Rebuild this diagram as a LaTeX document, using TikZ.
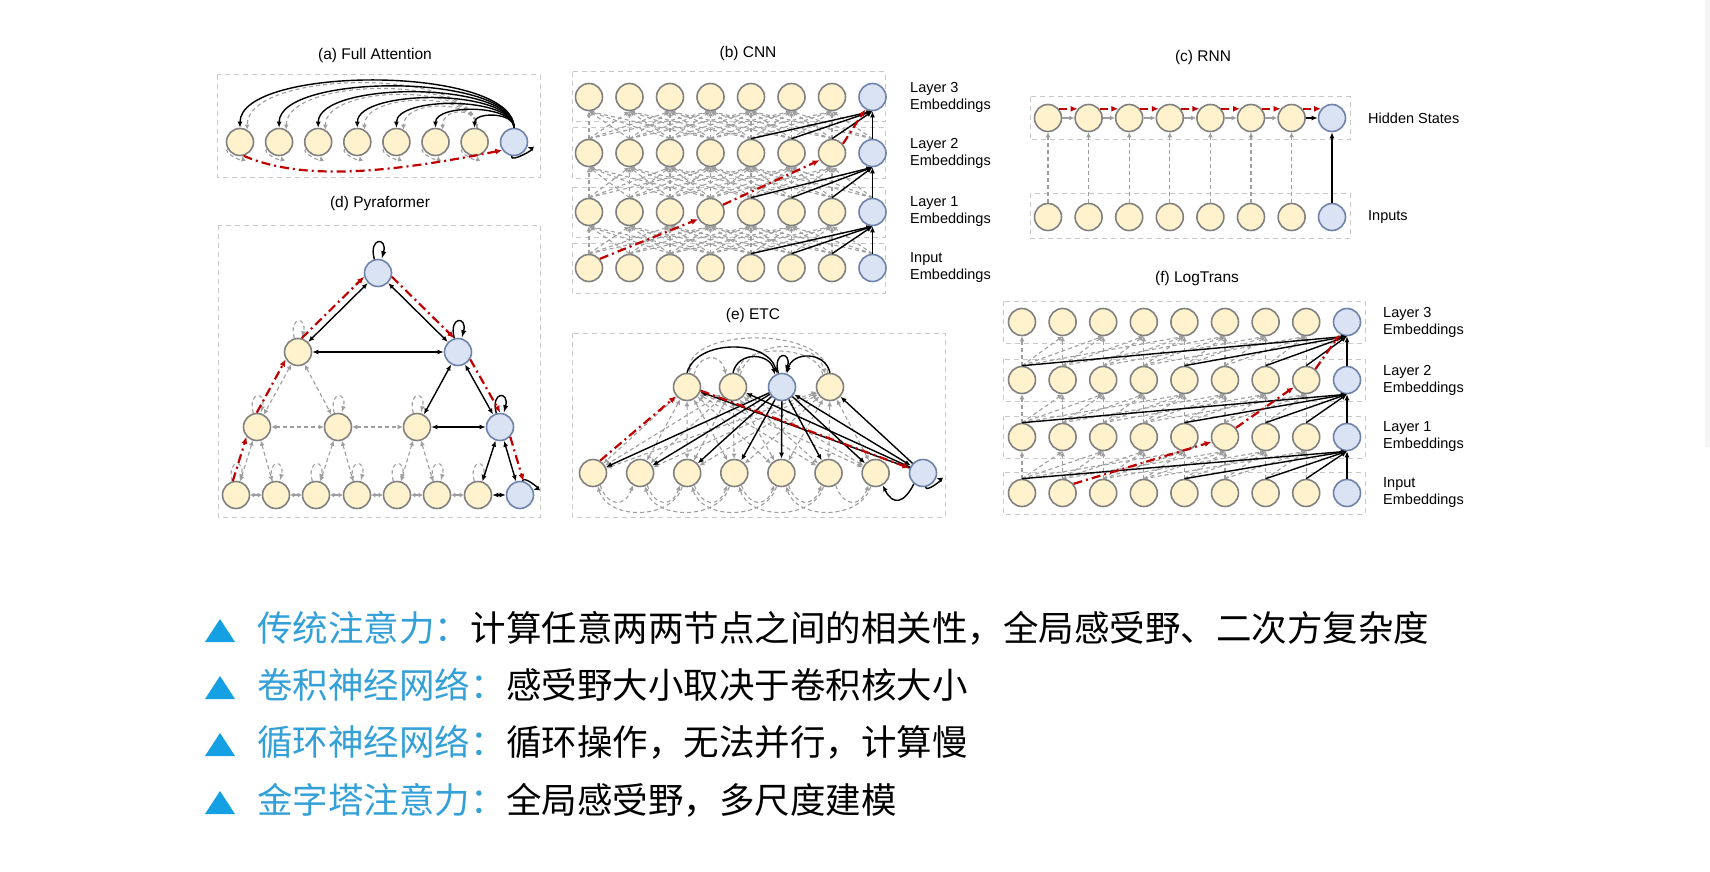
\documentclass[tikz,border=0pt]{standalone}
\usepackage{fontspec}
\setmainfont{Liberation Sans}
\newfontfamily\cjk{Noto Sans CJK SC}
\usepackage{xcolor}
\usepackage{tikz}
\usetikzlibrary{arrows.meta}
\usetikzlibrary{shapes,arrows,positioning}
\tikzset{>=latex}

\definecolor{tokfill}{RGB}{255,242,204}
\definecolor{globfill}{RGB}{218,227,243}
\definecolor{tokline}{RGB}{128,128,128}
\definecolor{globline}{RGB}{110,130,170}
\definecolor{attred}{RGB}{192,0,0}
\definecolor{dashgray}{RGB}{158,158,158}
\definecolor{boxgray}{RGB}{200,200,200}
\definecolor{keyblue}{RGB}{52,160,216}
\definecolor{tripblue}{RGB}{20,160,226}
\definecolor{stripgray}{RGB}{245,245,245}

\tikzset{
    tok/.style={circle, draw=tokline, fill=tokfill, line width=1.6pt, minimum size=27pt, inner sep=0pt},
    glob/.style={tok, draw=globline, fill=globfill},
    attn/.style={-{Latex[length=6pt,width=5pt]}, line width=1.4pt, black},
    attnd/.style={-{Latex[length=5pt,width=5pt]}, line width=1.1pt, dashgray, dash pattern=on 4pt off 3pt},
    dbl/.style={{Latex[length=6pt,width=5pt]}-{Latex[length=6pt,width=5pt]}, line width=1.4pt, black},
    dbld/.style={{Latex[length=5pt,width=5pt]}-{Latex[length=5pt,width=5pt]}, line width=1.1pt, dashgray, dash pattern=on 4pt off 3pt},
    gry/.style={-{Latex[length=5pt,width=5pt]}, line width=1.2pt, dashgray},
    gryd/.style={{Latex[length=4pt,width=5pt]}-{Latex[length=4pt,width=5pt]}, line width=1.2pt, dashgray},
    redpath/.style={-{Latex[length=7pt,width=6pt]}, line width=2.2pt, attred, dash pattern=on 9pt off 4pt on 2pt off 4pt},
    grp/.style={draw=boxgray, line width=1pt, dash pattern=on 5pt off 4pt},
    ttl/.style={font=\fontsize{15.5}{18}\selectfont},
    lbl/.style={anchor=west, align=left, inner sep=0pt, font=\fontsize{14.5}{17}\selectfont},
    keytxt/.style={anchor=base west, inner sep=0pt, text=keyblue, font=\cjk\fontsize{35.5}{40}\selectfont},
    bodytxt/.style={keytxt, text=black},
}

\begin{document}
\begin{tikzpicture}[x=1pt,y=1pt]
        \fill[white] (0,0) rectangle (1710,-872);
        \useasboundingbox (0,0) rectangle (1710,-872);
        \fill[stripgray] (1705,0) rectangle (1710,-447);

        % (a) full attention
        \node[ttl] (ta) at (375,-55) {(a) Full Attention};
        \draw[grp] (217,-75) rectangle (540,-177);
        \foreach \i in {0,...,6}
            \node[tok] (a\i) at (240+39.1*\i,-142) {};
        \node[glob] (a7) at (514,-142) {};
        \foreach \j in {0,...,5} {
            \pgfmathsetmacro\hh{10+0.2*(6.5-\j)*39.1}
            \draw[attnd] (a6.80) .. controls +(0,\hh) and +(0,\hh) .. (a\j.60);
        }
        \foreach \i in {0,...,6}
            \path (a\i) edge[loop, out=-150, in=-80, attnd] (a\i);
        \foreach \j in {0,...,6} {
            \pgfmathsetmacro\hh{8+0.2*(7-\j)*39.1}
            \draw[attn] (a7.north) .. controls +(0,\hh) and +(0,\hh) .. (a\j.north);
        }
        \path (a7) edge[loop, out=-100, in=-20, attn] (a7);
        \draw[redpath] (a0.-75) .. controls +(60,-26) and +(-110,-22) .. (a7.-145);

        % (b) cnn
        \node[ttl] (tb) at (748,-53) {(b) CNN};
        \foreach \r/\yy in {0/268,1/212,2/153,3/97} {
            \draw[grp] (572,-\yy+25) rectangle (885,-\yy-25);
            \foreach \c in {0,...,6}
                \node[tok] (b\r\c) at (589+40.5*\c,-\yy) {};
            \node[glob] (b\r7) at (872.5,-\yy) {};
        }
        \foreach \r in {0,1,2} {
            \pgfmathtruncatemacro\rr{\r+1}
            \foreach \c in {0,...,6}
                \foreach \d in {-3,...,3} {
                    \pgfmathtruncatemacro\j{\c+\d}
                    \ifnum\j>-1 \ifnum\j<8
                        \draw[attnd] (b\r\j.north) -- (b\rr\c.south);
                    \fi\fi
                }
            \foreach \j in {4,5,6,7}
                \draw[attn] (b\r\j.north) -- (b\rr7.south);
        }
        \draw[redpath] (b00.40) -- (b13.-150);
        \draw[redpath] (b13.30) -- (b26.-150);
        \draw[redpath] (b26.40) -- (b37.-120);
        \node[lbl] (lb3) at (910,-97) {Layer 3\\Embeddings};
        \node[lbl] (lb2) at (910,-153) {Layer 2\\Embeddings};
        \node[lbl] (lb1) at (910,-212) {Layer 1\\Embeddings};
        \node[lbl] (lb0) at (910,-268) {Input\\Embeddings};

        % (c) rnn
        \node[ttl] (tc) at (1203,-57) {(c) RNN};
        \draw[grp] (1030,-97) rectangle (1350,-140);
        \draw[grp] (1030,-193) rectangle (1350,-238);
        \foreach \c in {0,...,6} {
            \node[tok] (h\c) at (1048+40.6*\c,-118) {};
            \node[tok] (x\c) at (1048+40.6*\c,-217) {};
        }
        \node[glob] (h7) at (1332,-118) {};
        \node[glob] (x7) at (1332,-217) {};
        \foreach \c in {0,...,6}
            \draw[attnd] (x\c) -- (h\c);
        \draw[attn] (x7) -- (h7);
        \foreach \c [count=\n from 1] in {0,...,5}
            \draw[gry] (h\c) -- (h\n);
        \draw[attn] (h6) -- (h7);
        \foreach \c [count=\n from 1] in {0,...,6}
            \draw[redpath, dash pattern=on 8pt off 4pt] (h\c.40) -- (h\n.140);
        \node[lbl] (lh) at (1368,-118) {Hidden States};
        \node[lbl] (lx) at (1368,-217) {Inputs};

        % (d) pyraformer
        \node[ttl] (td) at (380,-203) {(d) Pyraformer};
        \draw[grp] (218,-225) rectangle (540,-517);
        \foreach \c/\xx in {0/236,1/276,2/316,3/357,4/397,5/437,6/478}
            \node[tok] (p0\c) at (\xx,-495) {};
        \node[glob] (p07) at (520,-495) {};
        \foreach \c/\xx in {0/257,1/338,2/417}
            \node[tok] (p1\c) at (\xx,-427) {};
        \node[glob] (p13) at (500,-427) {};
        \node[tok] (p20) at (298,-352) {};
        \node[glob] (p21) at (458,-352) {};
        \node[glob] (p30) at (378,-273) {};
        \foreach \u/\v in {p20/p10,p20/p11,p10/p11,p11/p12,p10/p00,p10/p01,p11/p02,p11/p03,p12/p04,p12/p05}
            \draw[dbld] (\u) -- (\v);
        \foreach \c [count=\n from 1] in {0,...,5}
            \draw[gryd] (p0\c) -- (p0\n);
        \foreach \u in {p00,p01,p02,p03,p04,p05,p06,p10,p11,p12,p20}
            \path (\u) edge[loop above, attnd] (\u);
        \foreach \u/\v in {p30/p20,p30/p21,p20/p21,p21/p12,p21/p13,p12/p13,p13/p06,p13/p07,p06/p07}
            \draw[dbl] (\u) -- (\v);
        \foreach \u in {p30,p21,p13}
            \path (\u) edge[loop above, attn] (\u);
        \path (p07) edge[loop, out=80, in=20, attn] (p07);
        \draw[redpath] (p00.103) -- (p10.223);
        \draw[redpath] (p10.91) -- (p20.211);
        \draw[redpath] (p20.75) -- (p30.195);
        \draw[redpath] (p30.-15) -- (p21.105);
        \draw[redpath] (p21.-31) -- (p13.89);
        \draw[redpath] (p13.-44) -- (p07.76);

        % (e) etc
        \node[ttl] (te) at (753,-315) {(e) ETC};
        \draw[grp] (572,-333) rectangle (945,-517);
        \foreach \c in {0,...,6}
            \node[tok] (e\c) at (593+47.1*\c,-473) {};
        \node[glob] (e7) at (923,-473) {};
        \node[tok] (g0) at (687,-387) {};
        \node[tok] (g1) at (733,-387) {};
        \node[glob] (g2) at (782,-387) {};
        \node[tok] (g3) at (830,-387) {};
        \foreach \g in {g0,g1,g3}
            \foreach \c in {0,...,6}
                \draw[dbld] (\g) -- (e\c);
        \draw[attnd] (g3.100) .. controls +(0,46) and +(0,46) .. (g0.80);
        \draw[attnd] (g0.60) .. controls +(5,22) and +(-5,22) .. (g1.120);
        \draw[attnd] (g1.60) .. controls +(10,36) and +(-10,36) .. (g3.110);
        \draw[attnd] (g3.120) .. controls +(-5,30) and +(5,30) .. (g1.70);
        \foreach \c [count=\n from 1] in {0,...,5}
            \draw[attnd] (e\c.-60) .. controls +(8,-22) and +(-8,-22) .. (e\n.-120);
        \foreach \c [count=\n from 2] in {0,...,4}
            \draw[attnd] (e\n.-110) .. controls +(-10,-34) and +(10,-34) .. (e\c.-70);
        \foreach \c in {0,...,6}
            \draw[attn] (g2) -- (e\c);
        \draw[dbl] (g2) -- (e7);
        \foreach \g in {g0,g1,g3}
            \draw[attn] (e7) -- (\g);
        \draw[attn] (g0.north) .. controls +(10,34) and +(-10,34) .. (g2.110);
        \draw[attn] (g1.north) .. controls +(5,22) and +(-5,22) .. (g2.120);
        \draw[attn] (g3.north) .. controls +(-5,22) and +(5,22) .. (g2.70);
        \path (g2) edge[loop above, attn] (g2);
        \draw[attn] (e7.-130) .. controls +(-10,-20) and +(10,-20) .. (e6.-60);
        \path (e7) edge[loop, out=-80, in=-20, attn] (e7);
        \draw[redpath] (e0.60) -- (g0.-140);
        \draw[redpath] (g0.-15) -- (e7.160);

        % (f) logtrans
        \node[ttl] (tf) at (1197,-278) {(f) LogTrans};
        \foreach \r/\yy in {0/493,1/437,2/380,3/322} {
            \draw[grp] (1003,-\yy+21) rectangle (1365,-\yy-21);
            \foreach \c in {0,...,7}
                \node[tok] (f\r\c) at (1022+40.6*\c,-\yy) {};
            \node[glob] (f\r8) at (1347,-\yy) {};
        }
        \foreach \r in {0,1,2} {
            \pgfmathtruncatemacro\rr{\r+1}
            \foreach \c in {0,...,7}
                \foreach \d in {0,1,2,4,8} {
                    \pgfmathtruncatemacro\j{\c-\d}
                    \ifnum\j>-1
                        \draw[attnd] (f\r\j.north) -- (f\rr\c.south);
                    \fi
                }
            \foreach \j in {0,4,6,7,8}
                \draw[attn] (f\r\j.north) -- (f\rr8.south);
        }
        \draw[redpath] (f01.40) -- (f15.-160);
        \draw[redpath] (f15.40) -- (f27.-150);
        \draw[redpath] (f27.50) -- (f38.-120);
        \node[lbl] (lf3) at (1383,-322) {Layer 3\\Embeddings};
        \node[lbl] (lf2) at (1383,-380) {Layer 2\\Embeddings};
        \node[lbl] (lf1) at (1383,-437) {Layer 1\\Embeddings};
        \node[lbl] (lf0) at (1383,-493) {Input\\Embeddings};

        % summary lines
        \foreach \yy in {641,698,755,813}
            \fill[tripblue] (205,-\yy-1) -- (235,-\yy-1) -- (220,-\yy+22) -- cycle;
        \node[keytxt] (k1) at (257,-641) {传统注意力：};
        \node[bodytxt] (v1) at (k1.base east) {计算任意两两节点之间的相关性，全局感受野、二次方复杂度};
        \node[keytxt] (k2) at (257,-698) {卷积神经网络：};
        \node[bodytxt] (v2) at (k2.base east) {感受野大小取决于卷积核大小};
        \node[keytxt] (k3) at (257,-755) {循环神经网络：};
        \node[bodytxt] (v3) at (k3.base east) {循环操作，无法并行，计算慢};
        \node[keytxt] (k4) at (257,-813) {金字塔注意力：};
        \node[bodytxt] (v4) at (k4.base east) {全局感受野，多尺度建模};
    \end{tikzpicture}
\end{document}
